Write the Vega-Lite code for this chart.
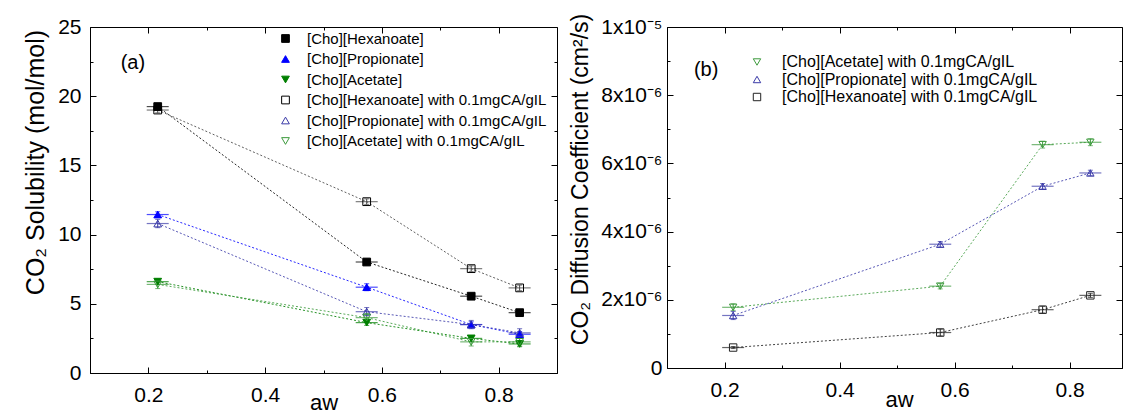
{
  "$schema": "https://vega.github.io/schema/vega-lite/v6.json",
  "padding": {"left": 22, "top": 12, "right": 0, "bottom": 0},
  "background": "white",
  "spacing": 10,
  "config": {
    "font": "Liberation Sans",
    "view": {"stroke": "black", "strokeWidth": 1},
    "axis": {"domainColor": "black", "tickColor": "black", "labelColor": "black", "titleColor": "black", "grid": false, "labelFont": "Liberation Sans", "titleFont": "Liberation Sans", "labelFontSize": 21, "titleFontSize": 24, "titleFontWeight": "normal", "tickWidth": 1},
    "legend": {"labelFont": "Liberation Sans", "labelColor": "black"},
    "text": {"font": "Liberation Sans"}
  },
  "datasets": {
    "a": [
      {"aw": 0.216, "value": 19.25, "err": 0.15, "series": "[Cho][Hexanoate]"},
      {"aw": 0.574, "value": 8.02, "err": 0.2, "series": "[Cho][Hexanoate]"},
      {"aw": 0.753, "value": 5.55, "err": 0.2, "series": "[Cho][Hexanoate]"},
      {"aw": 0.836, "value": 4.36, "err": 0.15, "series": "[Cho][Hexanoate]"},
      {"aw": 0.216, "value": 11.45, "err": 0.2, "series": "[Cho][Propionate]"},
      {"aw": 0.574, "value": 6.2, "err": 0.25, "series": "[Cho][Propionate]"},
      {"aw": 0.753, "value": 3.5, "err": 0.2, "series": "[Cho][Propionate]"},
      {"aw": 0.836, "value": 2.8, "err": 0.2, "series": "[Cho][Propionate]"},
      {"aw": 0.216, "value": 6.6, "err": 0.2, "series": "[Cho][Acetate]"},
      {"aw": 0.574, "value": 3.64, "err": 0.2, "series": "[Cho][Acetate]"},
      {"aw": 0.753, "value": 2.5, "err": 0.2, "series": "[Cho][Acetate]"},
      {"aw": 0.836, "value": 2.1, "err": 0.2, "series": "[Cho][Acetate]"},
      {"aw": 0.216, "value": 19.0, "err": 0.2, "series": "[Cho][Hexanoate] with 0.1mgCA/gIL"},
      {"aw": 0.574, "value": 12.38, "err": 0.2, "series": "[Cho][Hexanoate] with 0.1mgCA/gIL"},
      {"aw": 0.753, "value": 7.54, "err": 0.2, "series": "[Cho][Hexanoate] with 0.1mgCA/gIL"},
      {"aw": 0.836, "value": 6.15, "err": 0.2, "series": "[Cho][Hexanoate] with 0.1mgCA/gIL"},
      {"aw": 0.216, "value": 10.8, "err": 0.3, "series": "[Cho][Propionate] with 0.1mgCA/gIL"},
      {"aw": 0.574, "value": 4.43, "err": 0.3, "series": "[Cho][Propionate] with 0.1mgCA/gIL"},
      {"aw": 0.753, "value": 3.5, "err": 0.3, "series": "[Cho][Propionate] with 0.1mgCA/gIL"},
      {"aw": 0.836, "value": 2.9, "err": 0.3, "series": "[Cho][Propionate] with 0.1mgCA/gIL"},
      {"aw": 0.216, "value": 6.4, "err": 0.3, "series": "[Cho][Acetate] with 0.1mgCA/gIL"},
      {"aw": 0.574, "value": 4.0, "err": 0.3, "series": "[Cho][Acetate] with 0.1mgCA/gIL"},
      {"aw": 0.753, "value": 2.25, "err": 0.3, "series": "[Cho][Acetate] with 0.1mgCA/gIL"},
      {"aw": 0.836, "value": 2.25, "err": 0.3, "series": "[Cho][Acetate] with 0.1mgCA/gIL"}
    ],
    "b": [
      {"aw": 0.215, "value": 1.78e-6, "err": 0.1e-6, "series": "[Cho][Acetate] with 0.1mgCA/gIL"},
      {"aw": 0.575, "value": 2.40e-6, "err": 0.08e-6, "series": "[Cho][Acetate] with 0.1mgCA/gIL"},
      {"aw": 0.753, "value": 6.55e-6, "err": 0.1e-6, "series": "[Cho][Acetate] with 0.1mgCA/gIL"},
      {"aw": 0.836, "value": 6.62e-6, "err": 0.1e-6, "series": "[Cho][Acetate] with 0.1mgCA/gIL"},
      {"aw": 0.215, "value": 1.54e-6, "err": 0.12e-6, "series": "[Cho][Propionate] with 0.1mgCA/gIL"},
      {"aw": 0.575, "value": 3.63e-6, "err": 0.08e-6, "series": "[Cho][Propionate] with 0.1mgCA/gIL"},
      {"aw": 0.753, "value": 5.33e-6, "err": 0.08e-6, "series": "[Cho][Propionate] with 0.1mgCA/gIL"},
      {"aw": 0.836, "value": 5.72e-6, "err": 0.08e-6, "series": "[Cho][Propionate] with 0.1mgCA/gIL"},
      {"aw": 0.215, "value": 0.60e-6, "err": 0.03e-6, "series": "[Cho][Hexanoate] with 0.1mgCA/gIL"},
      {"aw": 0.575, "value": 1.04e-6, "err": 0.1e-6, "series": "[Cho][Hexanoate] with 0.1mgCA/gIL"},
      {"aw": 0.753, "value": 1.71e-6, "err": 0.1e-6, "series": "[Cho][Hexanoate] with 0.1mgCA/gIL"},
      {"aw": 0.836, "value": 2.13e-6, "err": 0.06e-6, "series": "[Cho][Hexanoate] with 0.1mgCA/gIL"}
    ]
  },
  "hconcat": [
    {
      "width": 467,
      "height": 346,
      "resolve": {"axis": {"x": "independent", "y": "independent"}},
      "layer": [
        {
          "data": {"name": "a"},
          "mark": {"type": "line", "strokeDash": [2, 2], "strokeWidth": 1, "opacity": 0.85},
          "encoding": {
            "x": {"field": "aw", "type": "quantitative", "scale": {"domain": [0.1, 0.9], "nice": false},
              "axis": {"title": "aw", "values": [0.2, 0.3, 0.4, 0.5, 0.6, 0.7, 0.8], "labelExpr": "round(datum.value*10) % 2 == 1 ? '' : format(datum.value, '.1f')", "tickSize": {"condition": {"test": "round(datum.value*10) % 2 == 1", "value": -3}, "value": -6}, "labelPadding": 17, "titleY": 36, "titleBaseline": "alphabetic", "titleFontSize": 22}},
            "y": {"field": "value", "type": "quantitative", "scale": {"domain": [0, 25], "nice": false},
              "axis": {"title": "CO₂ Solubility (mol/mol)", "titleFontSize": 25, "values": [0, 2.5, 5, 7.5, 10, 12.5, 15, 17.5, 20, 22.5, 25], "labelExpr": "datum.value % 5 != 0 ? '' : format(datum.value, 'd')", "tickSize": {"condition": {"test": "datum.value % 5 != 0", "value": -3}, "value": -6}, "labelPadding": 15, "titleX": -55, "titleY": 135, "titleAngle": 270, "titleAlign": "center", "titleBaseline": "middle"}},
            "color": {"field": "series", "type": "nominal", "legend": null,
              "scale": {"domain": ["[Cho][Acetate] with 0.1mgCA/gIL", "[Cho][Propionate] with 0.1mgCA/gIL", "[Cho][Hexanoate] with 0.1mgCA/gIL", "[Cho][Acetate]", "[Cho][Propionate]", "[Cho][Hexanoate]"],
                "range": ["#3c9a3c", "#3a3aa8", "#444444", "#007f00", "#0000ff", "#000000"]}}
          }
        },
        {
          "data": {"name": "a"},
          "mark": {"type": "errorbar", "ticks": true, "thickness": 1},
          "encoding": {
            "x": {"field": "aw", "type": "quantitative", "scale": {"domain": [0.1, 0.9], "nice": false}, "axis": null},
            "y": {"field": "value", "type": "quantitative", "scale": {"domain": [0, 25], "nice": false}, "axis": null},
            "yError": {"field": "err"},
            "color": {"field": "series", "type": "nominal", "legend": null}
          }
        },
        {
          "data": {"name": "a"},
          "mark": {"type": "tick", "orient": "horizontal", "size": 22, "thickness": 1.2},
          "encoding": {
            "x": {"field": "aw", "type": "quantitative", "scale": {"domain": [0.1, 0.9], "nice": false}, "axis": null},
            "y": {"field": "value", "type": "quantitative", "scale": {"domain": [0, 25], "nice": false}, "axis": null},
            "color": {"field": "series", "type": "nominal", "legend": null}
          }
        },
        {
          "data": {"name": "a"},
          "mark": {"type": "point", "strokeWidth": 1, "opacity": 1, "size": 60},
          "encoding": {
            "x": {"field": "aw", "type": "quantitative", "scale": {"domain": [0.1, 0.9], "nice": false}, "axis": null},
            "y": {"field": "value", "type": "quantitative", "scale": {"domain": [0, 25], "nice": false}, "axis": null},
            "stroke": {"field": "series", "type": "nominal",
              "scale": {"domain": ["[Cho][Hexanoate]", "[Cho][Propionate]", "[Cho][Acetate]", "[Cho][Hexanoate] with 0.1mgCA/gIL", "[Cho][Propionate] with 0.1mgCA/gIL", "[Cho][Acetate] with 0.1mgCA/gIL"],
                "range": ["#000000", "#0000ff", "#007f00", "#000000", "#3a3aa8", "#3c9a3c"]},
              "legend": {"title": null, "orient": "none", "legendX": 188, "legendY": 4, "labelFontSize": 15, "symbolSize": 60, "labelOffset": 14, "rowPadding": 4.5, "padding": 0, "symbolStrokeWidth": 1, "labelLimit": 300}},
            "fill": {"field": "series", "type": "nominal",
              "scale": {"domain": ["[Cho][Hexanoate]", "[Cho][Propionate]", "[Cho][Acetate]", "[Cho][Hexanoate] with 0.1mgCA/gIL", "[Cho][Propionate] with 0.1mgCA/gIL", "[Cho][Acetate] with 0.1mgCA/gIL"],
                "range": ["#000000", "#0000ff", "#007f00", "transparent", "transparent", "transparent"]}},
            "shape": {"field": "series", "type": "nominal",
              "scale": {"domain": ["[Cho][Hexanoate]", "[Cho][Propionate]", "[Cho][Acetate]", "[Cho][Hexanoate] with 0.1mgCA/gIL", "[Cho][Propionate] with 0.1mgCA/gIL", "[Cho][Acetate] with 0.1mgCA/gIL"],
                "range": ["square", "triangle-up", "triangle-down", "square", "triangle-up", "triangle-down"]}}
          }
        },
        {
          "data": {"values": [{"label": "(a)"}]},
          "mark": {"type": "text", "fontSize": 20, "color": "black"},
          "encoding": {
            "x": {"datum": 0.1735, "type": "quantitative", "scale": {"domain": [0.1, 0.9], "nice": false}, "axis": null},
            "y": {"datum": 22.4, "type": "quantitative", "scale": {"domain": [0, 25], "nice": false}, "axis": null},
            "text": {"field": "label"}
          }
        },
        {
          "data": {"name": "a"},
          "mark": {"type": "point", "opacity": 0},
          "encoding": {
            "x": {"field": "aw", "type": "quantitative", "scale": {"domain": [0.1, 0.9], "nice": false},
              "axis": {"orient": "top", "title": null, "labels": false, "domain": false, "values": [0.2, 0.3, 0.4, 0.5, 0.6, 0.7, 0.8], "tickSize": {"condition": {"test": "round(datum.value*10) % 2 == 1", "value": -3}, "value": -6}}},
            "y": {"field": "value", "type": "quantitative", "scale": {"domain": [0, 25], "nice": false},
              "axis": {"orient": "right", "title": null, "labels": false, "domain": false, "values": [0, 2.5, 5, 7.5, 10, 12.5, 15, 17.5, 20, 22.5, 25], "tickSize": {"condition": {"test": "datum.value % 5 != 0", "value": -3}, "value": -6}}}
          }
        }
      ]
    },
    {
      "width": 455,
      "height": 341,
      "resolve": {"axis": {"x": "independent", "y": "independent"}},
      "layer": [
        {
          "data": {"name": "b"},
          "mark": {"type": "line", "strokeDash": [2, 2], "strokeWidth": 1, "opacity": 0.85},
          "encoding": {
            "x": {"field": "aw", "type": "quantitative", "scale": {"domain": [0.1, 0.891], "nice": false},
              "axis": {"title": "aw", "values": [0.2, 0.3, 0.4, 0.5, 0.6, 0.7, 0.8], "labelExpr": "round(datum.value*10) % 2 == 1 ? '' : format(datum.value, '.1f')", "tickSize": {"condition": {"test": "round(datum.value*10) % 2 == 1", "value": -3}, "value": -6}, "labelPadding": 17, "titleX": 232, "titleY": 38, "titleBaseline": "alphabetic", "titleFontSize": 22}},
            "y": {"field": "value", "type": "quantitative", "scale": {"domain": [0, 1e-5], "nice": false},
              "axis": {"title": "CO₂ Diffusion Coefficient (cm²/s)", "titleFontSize": 23, "values": [0, 1e-6, 2e-6, 3e-6, 4e-6, 5e-6, 6e-6, 7e-6, 8e-6, 9e-6, 1e-5], "labelExpr": "round(datum.value*1e6) % 2 == 1 ? '' : (datum.value == 0 ? '0' : (round(datum.value*1e6) == 10 ? '1x10⁻⁵' : round(datum.value*1e6) + 'x10⁻⁶'))", "tickSize": {"condition": {"test": "round(datum.value*1e6) % 2 == 1", "value": -3}, "value": -6}, "labelPadding": 11, "titleX": -87, "titleY": 152, "titleAngle": 270, "titleAlign": "center", "titleBaseline": "middle"}},
            "color": {"field": "series", "type": "nominal", "legend": null,
              "scale": {"domain": ["[Cho][Hexanoate] with 0.1mgCA/gIL", "[Cho][Propionate] with 0.1mgCA/gIL", "[Cho][Acetate] with 0.1mgCA/gIL"],
                "range": ["#222222", "#3a3aa8", "#3c9a3c"]}}
          }
        },
        {
          "data": {"name": "b"},
          "mark": {"type": "errorbar", "ticks": true, "thickness": 1},
          "encoding": {
            "x": {"field": "aw", "type": "quantitative", "scale": {"domain": [0.1, 0.891], "nice": false}, "axis": null},
            "y": {"field": "value", "type": "quantitative", "scale": {"domain": [0, 1e-5], "nice": false}, "axis": null},
            "yError": {"field": "err"},
            "color": {"field": "series", "type": "nominal", "legend": null}
          }
        },
        {
          "data": {"name": "b"},
          "mark": {"type": "tick", "orient": "horizontal", "size": 22, "thickness": 1.2},
          "encoding": {
            "x": {"field": "aw", "type": "quantitative", "scale": {"domain": [0.1, 0.891], "nice": false}, "axis": null},
            "y": {"field": "value", "type": "quantitative", "scale": {"domain": [0, 1e-5], "nice": false}, "axis": null},
            "color": {"field": "series", "type": "nominal", "legend": null}
          }
        },
        {
          "data": {"name": "b"},
          "mark": {"type": "point", "strokeWidth": 1, "opacity": 1, "size": 55},
          "encoding": {
            "x": {"field": "aw", "type": "quantitative", "scale": {"domain": [0.1, 0.891], "nice": false}, "axis": null},
            "y": {"field": "value", "type": "quantitative", "scale": {"domain": [0, 1e-5], "nice": false}, "axis": null},
            "stroke": {"field": "series", "type": "nominal",
              "scale": {"domain": ["[Cho][Acetate] with 0.1mgCA/gIL", "[Cho][Propionate] with 0.1mgCA/gIL", "[Cho][Hexanoate] with 0.1mgCA/gIL"],
                "range": ["#3c9a3c", "#3a3aa8", "#222222"]},
              "legend": {"title": null, "orient": "none", "legendX": 82, "legendY": 27, "labelFontSize": 16, "symbolSize": 55, "labelOffset": 17, "rowPadding": 1.5, "padding": 0, "symbolStrokeWidth": 1, "labelLimit": 300}},
            "fill": {"field": "series", "type": "nominal",
              "scale": {"domain": ["[Cho][Acetate] with 0.1mgCA/gIL", "[Cho][Propionate] with 0.1mgCA/gIL", "[Cho][Hexanoate] with 0.1mgCA/gIL"],
                "range": ["transparent", "transparent", "transparent"]}},
            "shape": {"field": "series", "type": "nominal",
              "scale": {"domain": ["[Cho][Acetate] with 0.1mgCA/gIL", "[Cho][Propionate] with 0.1mgCA/gIL", "[Cho][Hexanoate] with 0.1mgCA/gIL"],
                "range": ["triangle-down", "triangle-up", "square"]}}
          }
        },
        {
          "data": {"values": [{"label": "(b)"}]},
          "mark": {"type": "text", "fontSize": 20, "color": "black"},
          "encoding": {
            "x": {"datum": 0.168, "type": "quantitative", "scale": {"domain": [0.1, 0.891], "nice": false}, "axis": null},
            "y": {"datum": 8.75e-6, "type": "quantitative", "scale": {"domain": [0, 1e-5], "nice": false}, "axis": null},
            "text": {"field": "label"}
          }
        },
        {
          "data": {"name": "b"},
          "mark": {"type": "point", "opacity": 0},
          "encoding": {
            "x": {"field": "aw", "type": "quantitative", "scale": {"domain": [0.1, 0.891], "nice": false},
              "axis": {"orient": "top", "title": null, "labels": false, "domain": false, "values": [0.2, 0.3, 0.4, 0.5, 0.6, 0.7, 0.8], "tickSize": {"condition": {"test": "round(datum.value*10) % 2 == 1", "value": -3}, "value": -6}}},
            "y": {"field": "value", "type": "quantitative", "scale": {"domain": [0, 1e-5], "nice": false},
              "axis": {"orient": "right", "title": null, "labels": false, "domain": false, "values": [0, 1e-6, 2e-6, 3e-6, 4e-6, 5e-6, 6e-6, 7e-6, 8e-6, 9e-6, 1e-5], "tickSize": {"condition": {"test": "round(datum.value*1e6) % 2 == 1", "value": -3}, "value": -6}}}
          }
        }
      ]
    }
  ],
  "resolve": {"scale": {"color": "independent", "stroke": "independent", "fill": "independent", "shape": "independent"}}
}
